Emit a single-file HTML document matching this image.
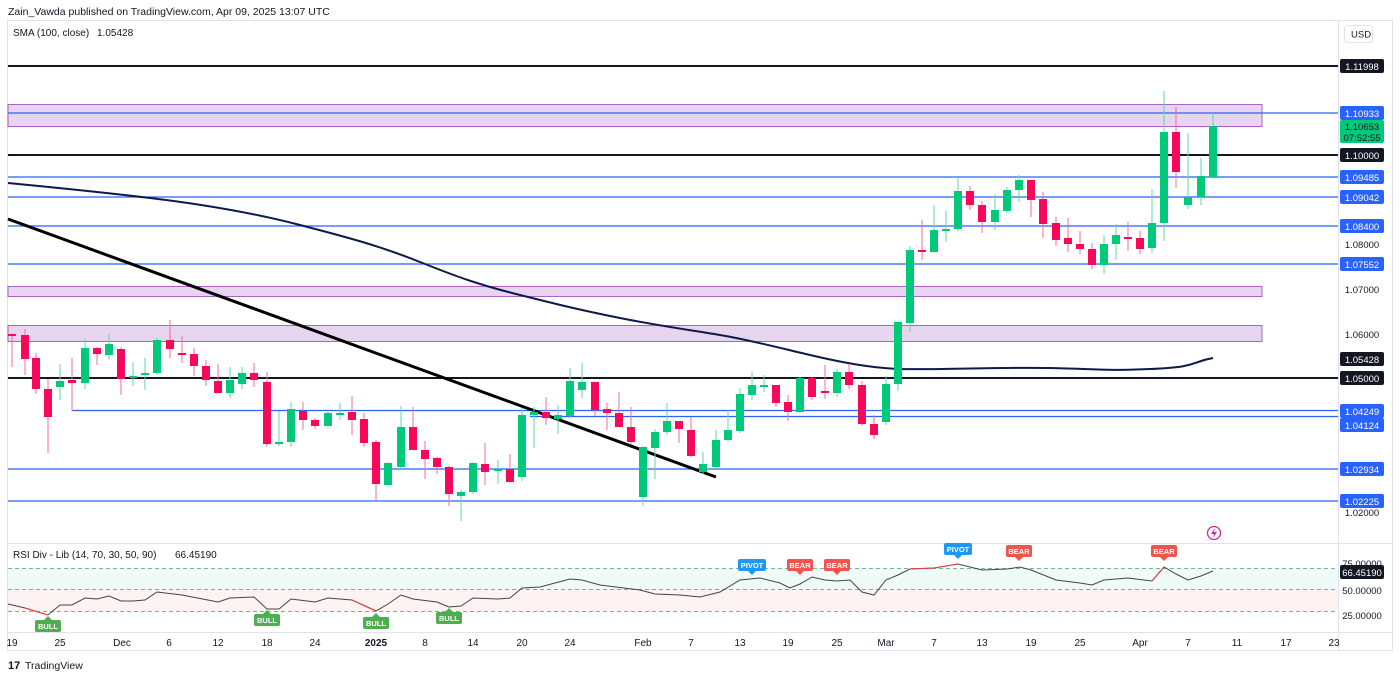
<!DOCTYPE html>
<html><head><meta charset="utf-8"><style>
html,body{margin:0;padding:0;background:#fff;}
svg{display:block;font-family:"Liberation Sans",sans-serif;}
</style></head><body>
<svg width="1400" height="679" viewBox="0 0 1400 679" xmlns="http://www.w3.org/2000/svg">
<rect width="1400" height="679" fill="#fff"/>
<text x="8" y="15" font-size="10.5" fill="#131722">Zain_Vawda published on TradingView.com, Apr 09, 2025 13:07 UTC</text>
<rect x="7.5" y="20.5" width="1385" height="630" fill="none" stroke="#e0e3eb"/>
<line x1="8" y1="543.5" x2="1392" y2="543.5" stroke="#e0e3eb"/>
<line x1="8" y1="632.5" x2="1392" y2="632.5" stroke="#e0e3eb"/>
<line x1="1338.5" y1="20" x2="1338.5" y2="651" stroke="#e0e3eb"/>
<text x="13" y="36" font-size="10" fill="#131722">SMA (100, close)</text>
<text x="97" y="36" font-size="10" fill="#131722">1.05428</text>
<rect x="1344.5" y="25.5" width="28" height="17" rx="3" fill="#fff" stroke="#e0e3eb"/>
<text x="1351" y="37.5" font-size="9.5" fill="#131722">USD</text>
<g fill="#e7d4ee" stroke="#b061c9" stroke-width="1">
<rect x="8" y="104.5" width="1254" height="22"/>
<rect x="8" y="286.5" width="1254" height="10"/>
<rect x="8" y="325.5" width="1254" height="16"/>
</g>
<g stroke="#131722" stroke-width="2">
<line x1="8" y1="66" x2="1338" y2="66"/><line x1="8" y1="155" x2="1338" y2="155"/><line x1="8" y1="378" x2="1338" y2="378"/>
</g>
<g stroke="#2962ff" stroke-width="1.3">
<line x1="8" y1="113" x2="1338" y2="113"/><line x1="8" y1="177" x2="1338" y2="177"/><line x1="8" y1="197" x2="1338" y2="197"/>
<line x1="8" y1="226" x2="1338" y2="226"/><line x1="8" y1="264" x2="1338" y2="264"/><line x1="72" y1="410.5" x2="1338" y2="410.5"/>
<line x1="530" y1="416.5" x2="1338" y2="416.5"/><line x1="8" y1="469" x2="1338" y2="469"/><line x1="8" y1="501" x2="1338" y2="501"/>
</g>
<path d="M8,183 C60,188 100,192 150,198 S250,212 300,225 S380,246 420,262 S480,285 520,295 S580,310 620,318 S690,330 720,335 S780,348 810,355 S870,368 900,369 S1000,367 1050,368 S1100,371 1150,369 S1190,362 1213,358" fill="none" stroke="#0d1a4a" stroke-width="2"/>
<line x1="8" y1="219" x2="716" y2="477" stroke="#000" stroke-width="3"/>
<!-- red candles -->
<path fill="none" stroke="#f76e94" stroke-width="1" d="M12,334V367M25,329V375M36,353V394M48,379V453M72,358V411M97,347V365M121,347V395M170,320V358M182,336V363M194,348V376M206,360V386M218,364V394M254,363V387M267,372V447M303,402V430M315,418V429M352,396V435M364,413V447M376,440V501M413,407V450M425,441V479M437,457V474M449,466V506M485,443V485M510,454V482M546,397V425M595,382V416M607,403V430M619,392V427M631,407V444M679,421V443M691,417V457M776,385V407M788,395V421M812,377V400M825,365V399M849,364V389M862,381V426M874,415V439M922,220V260M970,186V210M982,201V233M1031,180V217M1043,192V238M1056,217V246M1068,218V252M1080,231V254M1092,243V269M1128,222V251M1140,231V254M1176,107V188"/>
<path fill="#f7085a" d="M8,334h8V336h-8ZM21,335h8V359h-8ZM32,358h8V389h-8ZM44,389h8V417h-8ZM68,380h8V383h-8ZM93,348h8V354h-8ZM117,349h8V379h-8ZM166,340h8V349h-8ZM178,353h8V355h-8ZM190,354h8V366h-8ZM202,366h8V380h-8ZM214,381h8V393h-8ZM250,373h8V380h-8ZM263,382h8V444h-8ZM299,411h8V420h-8ZM311,420h8V426h-8ZM348,412h8V420h-8ZM360,419h8V443h-8ZM372,442h8V484h-8ZM409,427h8V450h-8ZM421,450h8V459h-8ZM433,458h8V467h-8ZM445,467h8V494h-8ZM481,464h8V472h-8ZM506,469h8V482h-8ZM542,412h8V418h-8ZM591,382h8V410h-8ZM603,409h8V413h-8ZM615,413h8V427h-8ZM627,427h8V442h-8ZM675,421h8V429h-8ZM687,430h8V456h-8ZM772,385h8V403h-8ZM784,402h8V412h-8ZM808,378h8V397h-8ZM821,391h8V393h-8ZM845,372h8V385h-8ZM858,385h8V424h-8ZM870,424h8V435h-8ZM918,250h8V252h-8ZM966,191h8V205h-8ZM978,205h8V222h-8ZM1027,180h8V200h-8ZM1039,199h8V224h-8ZM1052,223h8V240h-8ZM1064,238h8V244h-8ZM1076,244h8V249h-8ZM1088,249h8V265h-8ZM1124,237h8V239h-8ZM1136,238h8V249h-8ZM1172,132h8V172h-8Z"/>
<!-- green candles -->
<path fill="none" stroke="#5fd9a6" stroke-width="1" d="M60,364V400M85,339V389M109,334V359M133,362V386M145,358V390M157,338V375M230,367V398M242,367V389M279,411V446M291,402V447M328,409V427M340,403V420M388,462V485M401,406V468M461,490V521M473,462V494M498,460V484M522,408V481M534,407V448M558,405V434M570,368V418M582,363V398M643,446V506M655,429V479M667,403V435M703,452V474M716,430V469M728,410V442M740,388V433M752,372V400M764,375V392M800,377V413M837,369V397M886,376V425M898,321V391M910,246V332M934,205V253M946,211V242M958,178V231M995,194V230M1007,187V213M1019,175V202M1104,235V274M1116,224V260M1152,189V253M1164,91V241M1188,133V209M1201,158V205M1213,113V177"/>
<path fill="#00c979" d="M56,381h8V387h-8ZM81,348h8V383h-8ZM105,344h8V355h-8ZM129,376h8V378h-8ZM141,373h8V375h-8ZM153,340h8V373h-8ZM226,380h8V393h-8ZM238,373h8V384h-8ZM275,442h8V444h-8ZM287,409h8V442h-8ZM324,413h8V426h-8ZM336,413h8V415h-8ZM384,463h8V485h-8ZM397,427h8V467h-8ZM457,492h8V496h-8ZM469,463h8V492h-8ZM494,469h8V471h-8ZM518,415h8V477h-8ZM530,412h8V415h-8ZM554,415h8V419h-8ZM566,381h8V416h-8ZM578,382h8V390h-8ZM639,447h8V497h-8ZM651,432h8V448h-8ZM663,421h8V432h-8ZM699,464h8V472h-8ZM712,440h8V467h-8ZM724,430h8V440h-8ZM736,394h8V431h-8ZM748,385h8V395h-8ZM760,385h8V387h-8ZM796,378h8V412h-8ZM833,372h8V393h-8ZM882,384h8V422h-8ZM894,322h8V384h-8ZM906,250h8V323h-8ZM930,230h8V252h-8ZM942,229h8V231h-8ZM954,191h8V229h-8ZM991,210h8V222h-8ZM1003,190h8V211h-8ZM1015,180h8V190h-8ZM1100,244h8V265h-8ZM1112,235h8V244h-8ZM1148,223h8V248h-8ZM1160,132h8V223h-8ZM1184,197h8V205h-8ZM1197,176h8V197h-8ZM1209,126h8V177h-8Z"/>
<g font-size="9.5" text-anchor="middle">
<rect x="1340" y="59" width="44" height="14" rx="2" fill="#131722"/><text x="1362" y="70" fill="#fff">1.11998</text>
<rect x="1340" y="106" width="44" height="14" rx="2" fill="#2962ff"/><text x="1362" y="117" fill="#fff">1.10933</text>
<rect x="1340" y="120" width="44" height="23" rx="2" fill="#00c979"/><text x="1362" y="130" fill="#131722">1.10653</text><text x="1362" y="141" fill="#131722">07:52:55</text>
<rect x="1340" y="148" width="44" height="14" rx="2" fill="#131722"/><text x="1362" y="159" fill="#fff">1.10000</text>
<rect x="1340" y="170" width="44" height="14" rx="2" fill="#2962ff"/><text x="1362" y="181" fill="#fff">1.09485</text>
<rect x="1340" y="190" width="44" height="14" rx="2" fill="#2962ff"/><text x="1362" y="201" fill="#fff">1.09042</text>
<rect x="1340" y="219" width="44" height="14" rx="2" fill="#2962ff"/><text x="1362" y="230" fill="#fff">1.08400</text>
<text x="1362" y="248" fill="#131722">1.08000</text>
<rect x="1340" y="257" width="44" height="14" rx="2" fill="#2962ff"/><text x="1362" y="268" fill="#fff">1.07552</text>
<text x="1362" y="293" fill="#131722">1.07000</text>
<text x="1362" y="338" fill="#131722">1.06000</text>
<rect x="1340" y="352" width="44" height="14" rx="2" fill="#131722"/><text x="1362" y="363" fill="#fff">1.05428</text>
<rect x="1340" y="371" width="44" height="14" rx="2" fill="#131722"/><text x="1362" y="382" fill="#fff">1.05000</text>
<rect x="1340" y="404" width="44" height="14" rx="2" fill="#2962ff"/><text x="1362" y="415" fill="#fff">1.04249</text>
<rect x="1340" y="418" width="44" height="14" rx="2" fill="#2962ff"/><text x="1362" y="429" fill="#fff">1.04124</text>
<rect x="1340" y="462" width="44" height="14" rx="2" fill="#2962ff"/><text x="1362" y="473" fill="#fff">1.02934</text>
<rect x="1340" y="494" width="44" height="14" rx="2" fill="#2962ff"/><text x="1362" y="505" fill="#fff">1.02225</text>
<text x="1362" y="516" fill="#131722">1.02000</text>
</g>
<circle cx="1214" cy="533" r="6.5" fill="none" stroke="#d1279b" stroke-width="1.3"/>
<path d="M1215,528 L1211,534 L1214,534 L1213,538 L1217,532 L1214,532 Z" fill="#d1279b"/>
<text x="13" y="558" font-size="10" fill="#131722">RSI Div - Lib (14, 70, 30, 50, 90)</text>
<text x="175" y="558" font-size="10" fill="#131722">66.45190</text>
<rect x="8" y="568" width="1330" height="21" fill="#effbf6"/>
<rect x="8" y="589" width="1330" height="22" fill="#fdf3f3"/>
<g stroke-dasharray="4,3" stroke-width="1">
<line x1="8" y1="568.5" x2="1338" y2="568.5" stroke="#6fb89a"/>
<line x1="8" y1="589.5" x2="1338" y2="589.5" stroke="#9598a1"/>
<line x1="8" y1="611.5" x2="1338" y2="611.5" stroke="#d98585"/>
</g>
<polyline fill="none" stroke="#444" stroke-width="1" points="8,604 25,608 48,615 60,605 72,605 85,598 97,599 109,596 121,601 133,601 145,600 157,592 182,595 218,602 230,598 254,597 267,609 279,609 291,599 315,602 328,598 352,600 376,611 388,604 401,595 413,599 437,602 449,607 461,606 473,598 498,599 510,598 522,588 540,587 570,579 582,580 600,585 640,590 655,594 680,595 700,597 720,592 740,580 760,578 780,583 790,588 800,584 812,577 825,580 837,581 850,580 862,592 874,595 886,580 898,575 910,569 934,568 958,564 982,570 1007,569 1020,567 1031,570 1056,580 1080,583 1092,585 1104,580 1128,578 1152,581 1164,567 1176,574 1188,580 1201,576 1213,571"/>
<polyline fill="none" stroke="#f23645" stroke-width="1" points="25,608 48,615"/>
<polyline fill="none" stroke="#f23645" stroke-width="1" points="352,600 376,611"/>
<polyline fill="none" stroke="#f23645" stroke-width="1" points="910,569 934,568 958,564"/>
<polyline fill="none" stroke="#f23645" stroke-width="1" points="1152,581 1164,567"/>
<g font-size="7.5" font-weight="bold" fill="#fff" text-anchor="middle">
<path d="M44,620 L48,616 L52,620 Z" fill="#4caf50"/><rect x="35" y="620" width="26" height="12" rx="2" fill="#4caf50"/><text x="48" y="629">BULL</text>
<path d="M263,614 L267,610 L271,614 Z" fill="#4caf50"/><rect x="254" y="614" width="26" height="12" rx="2" fill="#4caf50"/><text x="267" y="623">BULL</text>
<path d="M372,617 L376,613 L380,617 Z" fill="#4caf50"/><rect x="363" y="617" width="26" height="12" rx="2" fill="#4caf50"/><text x="376" y="626">BULL</text>
<path d="M445,612 L449,608 L453,612 Z" fill="#4caf50"/><rect x="436" y="612" width="26" height="12" rx="2" fill="#4caf50"/><text x="449" y="621">BULL</text>
<rect x="738" y="559" width="28" height="12" rx="2" fill="#2196f3"/><path d="M748,571 L752,575 L756,571 Z" fill="#2196f3"/><text x="752" y="568">PIVOT</text>
<rect x="944" y="543" width="28" height="12" rx="2" fill="#2196f3"/><path d="M954,555 L958,559 L962,555 Z" fill="#2196f3"/><text x="958" y="552">PIVOT</text>
<rect x="787" y="559" width="26" height="12" rx="2" fill="#f0544f"/><path d="M796,571 L800,575 L804,571 Z" fill="#f0544f"/><text x="800" y="568">BEAR</text>
<rect x="824" y="559" width="26" height="12" rx="2" fill="#f0544f"/><path d="M833,571 L837,575 L841,571 Z" fill="#f0544f"/><text x="837" y="568">BEAR</text>
<rect x="1006" y="545" width="26" height="12" rx="2" fill="#f0544f"/><path d="M1015,557 L1019,561 L1023,557 Z" fill="#f0544f"/><text x="1019" y="554">BEAR</text>
<rect x="1151" y="545" width="26" height="12" rx="2" fill="#f0544f"/><path d="M1160,557 L1164,561 L1168,557 Z" fill="#f0544f"/><text x="1164" y="554">BEAR</text>
</g>
<g font-size="9.5" text-anchor="middle">
<text x="1362" y="567" fill="#131722">75.00000</text>
<rect x="1340" y="565" width="44" height="14" rx="2" fill="#131722"/><text x="1362" y="576" fill="#fff">66.45190</text>
<text x="1362" y="594" fill="#131722">50.00000</text>
<text x="1362" y="619" fill="#131722">25.00000</text>
</g>
<g font-size="10" fill="#131722" text-anchor="middle">
<text x="12" y="646">19</text><text x="60" y="646">25</text><text x="122" y="646">Dec</text><text x="169" y="646">6</text><text x="218" y="646">12</text><text x="267" y="646">18</text><text x="315" y="646">24</text><text x="376" y="646" font-weight="bold">2025</text><text x="425" y="646">8</text><text x="473" y="646">14</text><text x="522" y="646">20</text><text x="570" y="646">24</text><text x="643" y="646">Feb</text><text x="691" y="646">7</text><text x="740" y="646">13</text><text x="788" y="646">19</text><text x="837" y="646">25</text><text x="886" y="646">Mar</text><text x="934" y="646">7</text><text x="982" y="646">13</text><text x="1031" y="646">19</text><text x="1080" y="646">25</text><text x="1140" y="646">Apr</text><text x="1188" y="646">7</text><text x="1237" y="646">11</text><text x="1286" y="646">17</text><text x="1334" y="646">23</text>
</g>
<text x="8" y="669" font-size="11" font-weight="bold" fill="#131722">17</text>
<text x="25" y="669" font-size="10.5" fill="#131722">TradingView</text>
</svg>
</body></html>
